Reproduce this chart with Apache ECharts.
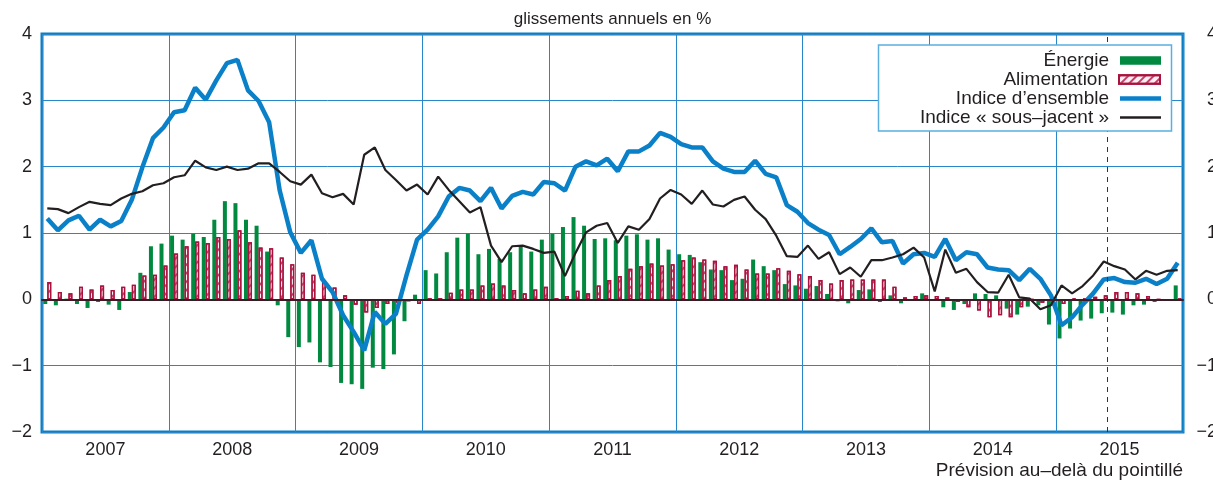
<!DOCTYPE html>
<html>
<head>
<meta charset="utf-8">
<title>Prix à la consommation</title>
<script src="https://cdn.jsdelivr.net/npm/echarts@6/dist/echarts.min.js"></script>
<style>
  html, body { margin: 0; padding: 0; background: #fff; }
  #chart { width: 1213px; height: 480px; }
</style>
</head>
<body>
<div id="chart"></div>
<script>
// catégories : un mois par barre, étiquettes par année
const years = ['2007', '2008', '2009', '2010', '2011', '2012', '2013', '2014', '2015'];
const months = [];
years.forEach(y => {
  for (let m = 1; m <= 12; m++) months.push(y + '-' + String(m).padStart(2, '0'));
});
const yTicks = { min: -2, max: 4, step: 1 };
// prévision au-delà de ce point (en mois depuis janvier 2007)
const forecastStart = 100.8;

// glissements annuels en %
const energie = [
  -0.07, -0.09, 0.01, -0.07, -0.13, -0.04, -0.08, -0.16, 0.11, 0.40, 0.80, 0.84,
  0.96, 0.90, 0.99, 0.94, 1.20, 1.48, 1.45, 1.20, 1.11, 0.72, -0.09, -0.57,
  -0.72, -0.65, -0.95, -1.02, -1.26, -1.28, -1.35, -1.03, -1.05, -0.83, -0.33, 0.07,
  0.44, 0.39, 0.71, 0.93, 0.99, 0.68, 0.76, 0.61, 0.71, 0.79, 0.72, 0.90,
  0.99, 1.09, 1.24, 1.11, 0.91, 0.92, 0.89, 0.96, 0.98, 0.90, 0.92, 0.75,
  0.68, 0.67, 0.56, 0.45, 0.44, 0.29, 0.31, 0.60, 0.50, 0.44, 0.23, 0.21,
  0.16, 0.20, 0.08, -0.03, -0.06, 0.14, 0.15, -0.04, 0.06, -0.06, 0.00, 0.09,
  -0.02, -0.12, -0.16, -0.07, 0.09, 0.08, 0.06, -0.14, -0.23, -0.11, -0.09, -0.38,
  -0.59, -0.44, -0.32, -0.29, -0.21, -0.20, -0.23, -0.09, -0.08, -0.04, -0.02, 0.21
];
const alimentation = [
  0.26, 0.11, 0.09, 0.19, 0.15, 0.21, 0.14, 0.19, 0.22, 0.36, 0.37, 0.51,
  0.69, 0.80, 0.87, 0.85, 0.94, 0.91, 1.04, 0.86, 0.78, 0.77, 0.63, 0.53,
  0.40, 0.37, 0.26, 0.18, 0.06, -0.08, -0.20, -0.13, -0.07, -0.05, -0.03, -0.07,
  0.02, 0.02, 0.10, 0.15, 0.15, 0.21, 0.24, 0.21, 0.14, 0.09, 0.15, 0.19,
  0.02, 0.05, 0.13, 0.09, 0.21, 0.29, 0.35, 0.46, 0.50, 0.54, 0.51, 0.53,
  0.59, 0.63, 0.60, 0.58, 0.50, 0.52, 0.45, 0.39, 0.39, 0.47, 0.43, 0.38,
  0.35, 0.29, 0.24, 0.29, 0.30, 0.30, 0.30, 0.30, 0.19, 0.03, 0.05, 0.06,
  0.05, 0.03, -0.04, -0.12, -0.17, -0.27, -0.24, -0.27, -0.12, 0.00, -0.05, -0.02,
  -0.07, 0.01, 0.01, 0.04, 0.06, 0.11, 0.11, 0.09, 0.05, 0.00, -0.01, 0.01
];
const ensemble = [
  1.22, 1.04, 1.19, 1.26, 1.05, 1.20, 1.10, 1.18, 1.50, 1.99, 2.43, 2.59,
  2.82, 2.85, 3.19, 3.01, 3.30, 3.56, 3.61, 3.15, 2.99, 2.67, 1.64, 1.01,
  0.70, 0.89, 0.31, 0.11, -0.24, -0.49, -0.77, -0.19, -0.37, -0.22, 0.36, 0.90,
  1.05, 1.25, 1.55, 1.68, 1.64, 1.48, 1.68, 1.37, 1.56, 1.62, 1.58, 1.77,
  1.75, 1.64, 2.00, 2.08, 2.02, 2.12, 1.93, 2.23, 2.23, 2.32, 2.51, 2.45,
  2.34, 2.29, 2.29, 2.08, 1.97, 1.92, 1.92, 2.09, 1.89, 1.84, 1.42, 1.32,
  1.15, 1.05, 0.97, 0.68, 0.79, 0.91, 1.07, 0.86, 0.88, 0.54, 0.68, 0.70,
  0.64, 0.91, 0.59, 0.71, 0.68, 0.48, 0.45, 0.44, 0.29, 0.46, 0.31, 0.06,
  -0.39, -0.27, -0.08, 0.09, 0.30, 0.32, 0.26, 0.25, 0.31, 0.23, 0.31, 0.55
];
const sousJacent = [
  1.37, 1.36, 1.30, 1.39, 1.47, 1.44, 1.42, 1.52, 1.59, 1.63, 1.72, 1.75,
  1.84, 1.87, 2.09, 1.99, 1.95, 2.00, 1.95, 1.97, 2.05, 2.05, 1.92, 1.78,
  1.73, 1.88, 1.60, 1.54, 1.59, 1.43, 2.18, 2.29, 1.95, 1.80, 1.64, 1.73,
  1.58, 1.85, 1.65, 1.48, 1.31, 1.39, 0.81, 0.56, 0.80, 0.81, 0.76, 0.70,
  0.72, 0.35, 0.70, 1.01, 1.11, 1.15, 0.85, 1.10, 1.05, 1.21, 1.52, 1.65,
  1.58, 1.44, 1.64, 1.43, 1.40, 1.50, 1.55, 1.35, 1.21, 0.96, 0.65, 0.64,
  0.81, 0.61, 0.71, 0.38, 0.48, 0.34, 0.59, 0.59, 0.63, 0.68, 0.78, 0.63,
  0.12, 0.75, 0.40, 0.46, 0.26, 0.11, 0.10, 0.37, 0.03, 0.01, -0.15, -0.09,
  0.21, 0.09, 0.20, 0.36, 0.57, 0.50, 0.45, 0.30, 0.43, 0.37, 0.43, 0.44
];

const font = '"Liberation Sans", Arial, Helvetica, sans-serif';
const textColor = '#231f20';
const gridBlue = '#2787c9';
const minusSign = v => String(v).replace('-', '\u2212');

const chart = echarts.init(document.getElementById('chart'));

// une légende par ligne pour aligner les icônes à droite
const legendRows = [
  [{ name: 'Énergie', icon: 'rect' }, 50.5, 8.5],
  [{ name: 'Alimentation', icon: 'rect' }, 69.5, 8.5],
  [{ name: 'Indice d’ensemble', icon: 'rect' }, 88.5, 4.5],
  [{ name: 'Indice « sous–jacent »', icon: 'rect' }, 107.5, 2.4]
];

const option = {
  animation: false,
  textStyle: { fontFamily: font },
  grid: {
    left: 42, right: 30, top: 34, bottom: 48,
    outerBoundsMode: 'none',
    containLabel: false,
    show: true, borderColor: '#0b7fc3', borderWidth: 3
  },
  legend: legendRows.map(([item, top, h]) => ({
    data: [item],
    right: 52,
    top: top,
    orient: 'vertical',
    align: 'right',
    padding: 0,
    itemWidth: 41,
    itemHeight: h,
    selectedMode: false,
    z: 11,
    textStyle: { fontSize: 19, color: textColor, lineHeight: 20, padding: [0, 6, 0, 0] }
  })),
  xAxis: [
    {
      type: 'category',
      data: months,
      z: 5,
      axisLine: { onZero: true, lineStyle: { color: '#3a1c26', width: 2 } },
      axisTick: { show: false },
      axisLabel: { show: false },
      splitLine: { show: false }
    },
    {
      type: 'category',
      data: years,
      position: 'bottom',
      axisLine: { show: false, onZero: false },
      axisTick: { show: false },
      axisLabel: { fontSize: 18, color: textColor, margin: 9 },
      splitLine: { show: true, interval: 0, lineStyle: { color: gridBlue, width: 1 } }
    },
    { type: 'value', min: 0, max: months.length, show: false }
  ],
  yAxis: [
    {
      type: 'value',
      min: yTicks.min, max: yTicks.max, interval: yTicks.step,
      axisLine: { show: false },
      axisTick: { show: false },
      axisLabel: { fontSize: 18, color: textColor, margin: 10, formatter: minusSign },
      splitLine: { lineStyle: { color: gridBlue, width: 1 } }
    },
    {
      type: 'value',
      position: 'right',
      min: yTicks.min, max: yTicks.max, interval: yTicks.step,
      axisLine: { show: false },
      axisTick: { show: false },
      axisLabel: { fontSize: 18, color: textColor, margin: 34, align: 'right', formatter: minusSign },
      splitLine: { show: false }
    }
  ],
  graphic: [
    {
      type: 'rect',
      z: 10,
      shape: { x: 878.5, y: 45, width: 293, height: 86 },
      style: { fill: '#fff', stroke: '#5aaee0', lineWidth: 1.5 }
    },
    {
      type: 'text',
      z: 10,
      style: {
        text: 'glissements annuels en %', x: 612.5, y: 19,
        align: 'center', textAlign: 'center', verticalAlign: 'middle', textVerticalAlign: 'middle',
        font: '17px ' + font, fill: textColor
      }
    },
    {
      type: 'text',
      z: 10,
      style: {
        text: 'Prévision au–delà du pointillé', x: 1183, y: 471,
        align: 'right', textAlign: 'right', verticalAlign: 'middle', textVerticalAlign: 'middle',
        font: '19px ' + font, fill: textColor
      }
    }
  ],
  series: [
    {
      name: 'Énergie',
      type: 'bar',
      data: energie,
      barWidth: 4,
      barGap: '0%',
      itemStyle: { color: '#00893f' }
    },
    {
      name: 'Alimentation',
      type: 'bar',
      data: alimentation,
      barWidth: 4,
      itemStyle: {
        color: '#fbeef2',
        borderColor: '#a8123d',
        borderWidth: 1.3,
        decal: {
          symbol: 'rect',
          color: '#c2406a',
          dashArrayX: [1, 0],
          dashArrayY: [1.5, 3.5],
          rotation: -Math.PI / 4
        }
      }
    },
    {
      name: 'Indice d’ensemble',
      type: 'line',
      data: ensemble,
      symbol: 'none',
      z: 3,
      lineStyle: { color: '#0a80c8', width: 4.5 },
      itemStyle: { color: '#0a80c8' }
    },
    {
      name: 'Indice « sous–jacent »',
      type: 'line',
      data: sousJacent,
      symbol: 'none',
      z: 4,
      lineStyle: { color: '#231f20', width: 2.2 },
      itemStyle: { color: '#231f20' }
    },
    {
      type: 'line',
      xAxisIndex: 2,
      data: [],
      markLine: {
        silent: true,
        symbol: ['none', 'none'],
        label: { show: false },
        lineStyle: { color: '#333', width: 1, type: [5, 5] },
        data: [{ xAxis: forecastStart }]
      }
    }
  ]
};

chart.setOption(option);
</script>
</body>
</html>
